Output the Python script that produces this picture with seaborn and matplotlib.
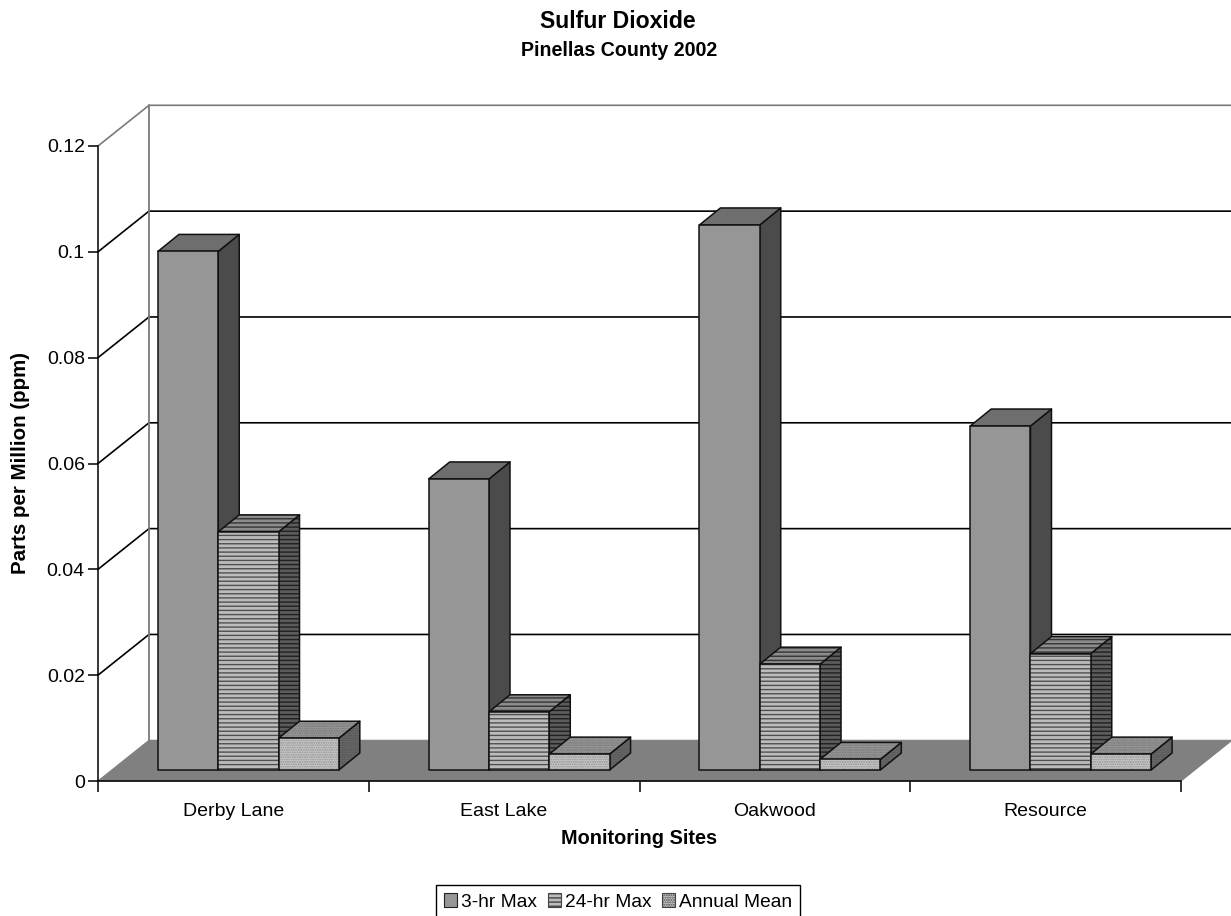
import pandas as pd
import matplotlib
matplotlib.use('Agg')
import matplotlib.pyplot as plt
from matplotlib.patches import Patch, Polygon
import seaborn as sns

SITES = ['Derby Lane', 'East Lake', 'Oakwood', 'Resource']
SERIES = ['3-hr Max', '24-hr Max', 'Annual Mean']
MAX_3HR = [0.098, 0.055, 0.103, 0.065]
MAX_24HR = [0.045, 0.011, 0.020, 0.022]
ANNUAL_MEAN = [0.006, 0.003, 0.002, 0.003]
Y_TICKS = [0, 0.02, 0.04, 0.06, 0.08, 0.1, 0.12]
Y_LABELS = ['0', '0.02', '0.04', '0.06', '0.08', '0.1', '0.12']

W, H = 1231, 916

# front, top, side faces: (base colour, hatch colour, hatch)
STYLES = {
    '3-hr Max': [('#969696', '#969696', None), ('#6e6e6e', '#6e6e6e', None), ('#4b4b4b', '#4b4b4b', None)],
    '24-hr Max': [('#bcbcbc', '#505050', '----'), ('#8c8c8c', '#343434', '----'), ('#5c5c5c', '#202020', '----')],
    'Annual Mean': [('#cdcdcd', '#8f8f8f', '.......'), ('#9c9c9c', '#727272', '.......'), ('#6c6c6c', '#505050', '.......')],
}

sns.set_theme(style='white')
plt.rcParams['font.family'] = ['Liberation Sans', 'DejaVu Sans']
plt.rcParams['hatch.linewidth'] = 1.0
plt.rcParams['text.color'] = 'black'
plt.rcParams['axes.labelcolor'] = 'black'
plt.rcParams['xtick.color'] = 'black'
plt.rcParams['ytick.color'] = 'black'


def px_axes(fig, left, right, top, bottom):
    return fig.add_axes([left / W, 1 - bottom / H, (right - left) / W, (bottom - top) / H])


fig = plt.figure(figsize=(W / 100, H / 100), dpi=100, facecolor='white')

# front plane: holds the axes, the walls and the floor
ax = px_axes(fig, 98, 1181, 146, 781)
ax.set_xlim(-0.5, len(SITES) - 0.5)
ax.set_ylim(0, 0.12)
ax.patch.set_alpha(0)
for s in ['top', 'right']:
    ax.spines[s].set_visible(False)
for s in ['left', 'bottom']:
    ax.spines[s].set_color('black')
    ax.spines[s].set_linewidth(1.1)
    ax.spines[s].set_zorder(3)

ux = (1181 - 98) / len(SITES)
uy = (781 - 146) / 0.12
wall_dx, wall_dy = 51 / ux, 40.7 / uy
x0, x1 = ax.get_xlim()

ax.add_patch(Polygon([(x0, 0), (x1, 0), (x1 + wall_dx, wall_dy), (x0 + wall_dx, wall_dy)],
                     facecolor='#808080', edgecolor='#808080', lw=0.8, clip_on=False, zorder=1))
for t in Y_TICKS[1:]:
    c = '#7a7a7a' if t == Y_TICKS[-1] else 'black'
    ax.plot([x0, x0 + wall_dx, x1 + wall_dx], [t, t + wall_dy, t + wall_dy], color=c,
            lw=1.2, clip_on=False, zorder=1, solid_joinstyle='miter')
ax.plot([x0 + wall_dx] * 2, [wall_dy, Y_TICKS[-1] + wall_dy], color='#7a7a7a', lw=1.3, clip_on=False, zorder=1)

ax.set_yticks(Y_TICKS, labels=Y_LABELS)
ax.set_xticks([x0 + i for i in range(len(SITES) + 1)], labels=[])
ax.set_xticks(range(len(SITES)), labels=SITES, minor=True)
ax.tick_params(axis='y', which='major', left=True, length=7.5, width=1.1, color='black', labelsize=14, pad=2)
ax.tick_params(axis='x', which='major', bottom=True, length=8, width=1.1, color='black')
ax.tick_params(axis='x', which='minor', bottom=False, length=0, labelsize=14, pad=15.5)
ax.set_xlabel('Monitoring Sites', fontsize=14.3, fontweight='bold')
ax.xaxis.set_label_coords((639 - 98) / (1181 - 98), -(838 - 781) / (781 - 146), transform=ax.transAxes)
ax.xaxis.label.set_va('center')
ax.set_ylabel('Parts per Million (ppm)', fontsize=14.8, fontweight='bold')
ax.yaxis.set_label_coords(-(98 - 21) / (1181 - 98), (781 - 463) / (781 - 146), transform=ax.transAxes)
ax.yaxis.label.set_va('center')

# bars stand a little in front of the back wall, on the floor
ax_bar = px_axes(fig, 113, 1196, 135, 770)
df = pd.DataFrame({
    'site': SITES * 3,
    'series': [s for s in SERIES for _ in SITES],
    'ppm': MAX_3HR + MAX_24HR + ANNUAL_MEAN,
})
sns.barplot(data=df, x='site', y='ppm', hue='series', order=SITES, hue_order=SERIES,
            width=0.668, gap=0, saturation=1, errorbar=None, legend=False, ax=ax_bar)
ax_bar.set_xlim(x0, x1)
ax_bar.set_ylim(0, 0.12)
ax_bar.axis('off')
ax_bar.patch.set_alpha(0)

dx, dy = 21 / ux, 17 / uy


def face(pts, style, z):
    base, hatch_col, hatch = style
    ax_bar.add_patch(Polygon(pts, facecolor=base, edgecolor=hatch_col, hatch=hatch, lw=0, zorder=z, clip_on=False))
    ax_bar.add_patch(Polygon(pts, fill=False, edgecolor='#111111', lw=1.1, zorder=z + 0.5, clip_on=False,
                             joinstyle='round'))


for j, (name, container) in enumerate(zip(SERIES, ax_bar.containers)):
    front, top, side = STYLES[name]
    for i, bar in enumerate(container):
        l, b = bar.get_x(), bar.get_y()
        r, t = l + bar.get_width(), b + bar.get_height()
        z = 10 + 5 * (i * len(SERIES) + j)
        face([(r, b), (r + dx, b + dy), (r + dx, t + dy), (r, t)], side, z)
        face([(l, t), (r, t), (r + dx, t + dy), (l + dx, t + dy)], top, z + 1)
        bar.set_visible(False)
        face([(l, b), (r, b), (r, t), (l, t)], front, z + 2)

handles = [Patch(facecolor=STYLES[s][0][0], edgecolor='#222222' if STYLES[s][0][2] is None else '#444444',
                 hatch=STYLES[s][0][2], lw=0.8, label=s) for s in SERIES]
leg = fig.legend(handles=handles, loc='center', bbox_to_anchor=(618 / W, 1 - 902 / H), ncol=3,
                 fontsize=13.8, frameon=True, fancybox=False, edgecolor='black', framealpha=1,
                 handlelength=0.7, handleheight=0.7, handletextpad=0.2, columnspacing=0.55,
                 borderpad=0.42, borderaxespad=0)
leg.get_frame().set_linewidth(1.0)

fig.text(618 / W, 1 - 21 / H, 'Sulfur Dioxide', ha='center', va='center', fontsize=16.6, fontweight='bold')
fig.text(619 / W, 1 - 51 / H, 'Pinellas County 2002', ha='center', va='center', fontsize=14.1, fontweight='bold')

fig.savefig('out.png', dpi=100, facecolor='white')
plt.close(fig)
